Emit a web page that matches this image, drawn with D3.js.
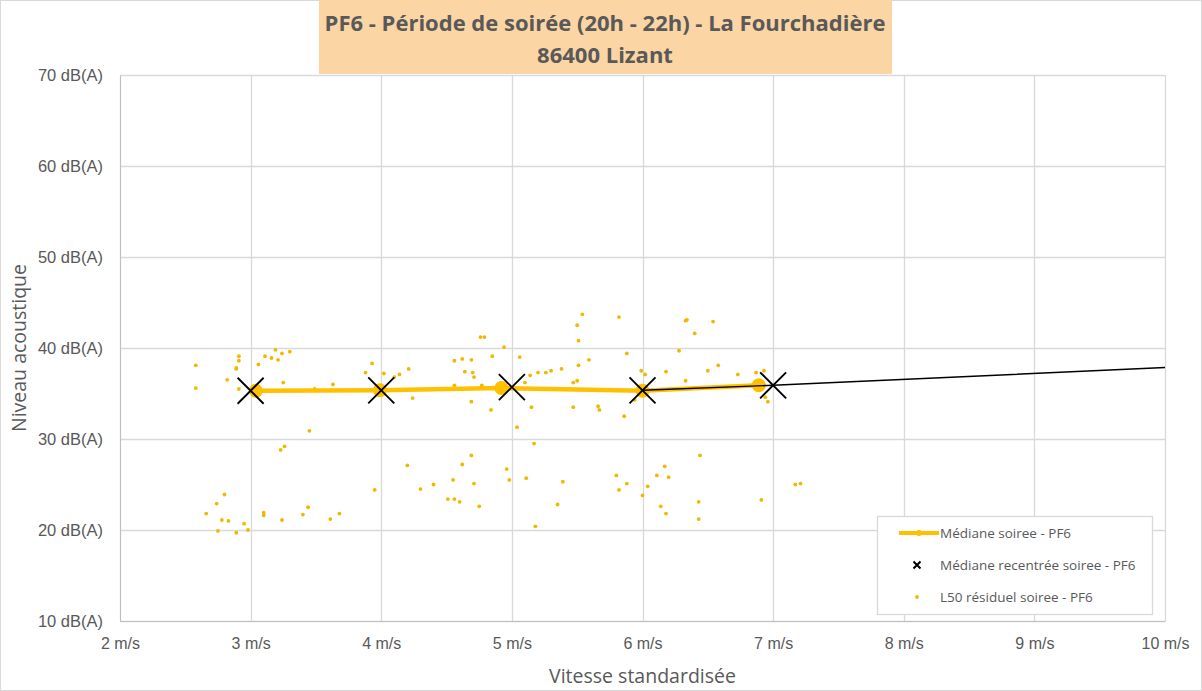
<!DOCTYPE html>
<html>
<head>
<meta charset="utf-8">
<script src="https://cdn.jsdelivr.net/npm/d3@7"></script>
<style>
  html, body { margin: 0; padding: 0; background: #fff; }
  svg { display: block; font-family: "Open Sans", "DejaVu Sans", sans-serif; }
</style>
</head>
<body>
<svg id="chart" width="1202" height="691"></svg>
<script>
// Axis ticks
const xTicks = [2, 3, 4, 5, 6, 7, 8, 9, 10];
const yTicks = [10, 20, 30, 40, 50, 60, 70];

// Median per wind speed class (orange line)
const medianX = [3.04, 3.99, 4.92, 6.0, 6.89];
const medianY = [35.3, 35.35, 35.6, 35.3, 35.9];

// Recentred median at integer speeds (black crosses)
const recentX = [3, 4, 5, 6, 7];
const recentY = [35.3, 35.35, 35.7, 35.35, 35.9];

// Extension of the recentred median (black line)
const extX = [6, 7, 10];
const extY = [35.35, 35.9, 37.85];

// Residual L50 samples (speed, level)
const residX = [
  2.58, 2.58, 2.91, 2.91, 2.89, 2.89, 2.82, 2.91, 3.11, 3.19, 3.16, 3.24, 3.21, 3.30, 3.06, 3.25,
  3.49, 3.63, 3.45, 3.23, 3.26, 2.80, 2.74, 2.66, 2.78, 2.83, 2.75, 2.89, 2.95, 2.98, 3.10, 3.10,
  3.24, 3.40, 3.44, 3.61, 3.68, 3.95, 3.93, 3.88, 4.02, 4.10, 4.14, 4.21, 4.24, 4.20, 4.30, 4.40,
  4.56, 4.62, 4.69, 4.64, 4.70, 4.71, 4.56, 4.69, 4.69, 4.62, 4.55, 4.71, 4.51, 4.56, 4.60, 4.75,
  4.76, 4.79, 4.77, 4.94, 4.85, 5.06, 5.14, 5.20, 5.26, 5.30, 5.38, 5.10, 4.84, 5.15, 5.04, 5.17,
  4.96, 4.98, 5.11, 5.18, 5.39, 5.35, 5.54, 5.50, 5.51, 5.51, 5.59, 5.47, 5.50, 5.47, 5.66, 5.67,
  5.82, 5.88, 5.86, 5.99, 6.02, 5.94, 5.80, 5.82, 5.88, 6.00, 6.04, 6.11, 6.17, 6.20, 6.14, 6.18,
  6.44, 6.43, 6.43, 6.33, 6.34, 6.54, 6.40, 6.28, 6.18, 6.33, 6.50, 6.58, 6.73, 6.87, 6.93, 6.94,
  6.96, 6.91, 7.17, 7.21
];
const residY = [
  38.1, 35.6, 39.1, 38.6, 37.8, 37.7, 36.5, 35.5, 39.1, 39.8, 38.9, 39.4, 38.7, 39.6, 38.2, 36.2,
  35.5, 36.0, 30.9, 28.8, 29.2, 23.9, 22.9, 21.8, 21.1, 21.0, 19.9, 19.7, 20.7, 20.0, 21.9, 21.6,
  21.1, 21.7, 22.5, 21.2, 21.8, 24.4, 38.3, 37.3, 37.2, 36.8, 37.1, 37.7, 34.5, 27.1, 24.5, 25.0,
  38.6, 38.8, 38.7, 37.4, 37.3, 36.8, 35.9, 34.1, 28.2, 27.2, 25.5, 25.1, 23.4, 23.4, 23.1, 22.6,
  41.2, 41.2, 35.9, 40.1, 39.1, 39.0, 37.0, 37.3, 37.3, 37.5, 37.7, 36.2, 33.2, 33.5, 31.3, 29.5,
  26.7, 25.5, 25.7, 20.4, 25.3, 22.8, 43.7, 42.5, 40.8, 38.1, 38.7, 36.2, 36.4, 33.5, 33.6, 33.2,
  43.4, 39.4, 32.5, 37.5, 37.1, 34.3, 26.0, 24.4, 25.1, 23.8, 24.8, 26.0, 27.0, 25.8, 22.6, 21.8,
  28.2, 23.1, 21.2, 43.0, 43.1, 42.9, 41.6, 39.7, 37.4, 36.4, 37.5, 38.1, 37.1, 37.3, 37.5, 34.6,
  34.1, 23.3, 25.0, 25.1
];

const titleLines = ["PF6 - Période de soirée (20h - 22h) - La Fourchadière", "86400 Lizant"];
const legendLabels = ["Médiane soiree - PF6", "Médiane recentrée soiree - PF6", "L50 résiduel soiree - PF6"];
const xTitle = "Vitesse standardisée";
const yTitle = "Niveau acoustique";

const gold = "#FFC000";
const textCol = "#595959";
const gridCol = "#d9d9d9";

const svg = d3.select("#chart");
const W = 1202, H = 691;
const plot = { left: 120, right: 1165, top: 75, bottom: 621 };

const x = d3.scaleLinear().domain([2, 10]).range([plot.left, plot.right]);
const y = d3.scaleLinear().domain([10, 70]).range([plot.bottom, plot.top]);

// chart area frame
svg.append("rect").attr("x", 0.5).attr("y", 0.5).attr("width", W - 1).attr("height", H - 1)
  .attr("fill", "#fff").attr("stroke", gridCol);

// grid
const grid = svg.append("g");
grid.selectAll("line.h").data(yTicks).join("line")
  .attr("x1", plot.left).attr("x2", plot.right)
  .attr("y1", d => Math.round(y(d)) + 0.5).attr("y2", d => Math.round(y(d)) + 0.5)
  .attr("stroke", gridCol).attr("stroke-width", 1.3);
grid.selectAll("line.v").data(xTicks).join("line")
  .attr("y1", plot.top).attr("y2", plot.bottom)
  .attr("x1", d => Math.round(x(d)) + 0.5).attr("x2", d => Math.round(x(d)) + 0.5)
  .attr("stroke", gridCol).attr("stroke-width", 1.3);

// axes (labels only, domain lines drawn with the grid)
const xAxis = svg.append("g").attr("transform", `translate(0,${plot.bottom})`)
  .call(d3.axisBottom(x).tickValues(xTicks).tickSize(0).tickPadding(17).tickFormat(d => `${d} m/s`));
xAxis.select(".domain").attr("stroke", "#bfbfbf");
xAxis.selectAll("text").attr("fill", textCol).attr("font-size", 16).attr("font-family", null);

const yAxis = svg.append("g").attr("transform", `translate(${plot.left},0)`)
  .call(d3.axisLeft(y).tickValues(yTicks).tickSize(0).tickPadding(17).tickFormat(d => `${d} dB(A)`));
yAxis.select(".domain").attr("stroke", "#bfbfbf");
yAxis.selectAll("text").attr("fill", textCol).attr("font-size", 16.5).attr("font-family", null);

// axis titles
svg.append("text").attr("x", (plot.left + plot.right) / 2).attr("y", 683)
  .attr("text-anchor", "middle").attr("fill", textCol).attr("font-size", 19.5).text(xTitle);
svg.append("text").attr("transform", `translate(26,${(plot.top + plot.bottom) / 2}) rotate(-90)`)
  .attr("text-anchor", "middle").attr("fill", textCol).attr("font-size", 19.5).text(yTitle);

// residual L50 points
const residuals = residX.map((v, i) => [v, residY[i]]);
svg.append("g").selectAll("circle").data(residuals).join("circle")
  .attr("cx", d => x(d[0])).attr("cy", d => y(d[1])).attr("r", 1.9)
  .attr("fill", "#F2B800");

// median line with markers
const median = medianX.map((v, i) => [v, medianY[i]]);
const line = d3.line().x(d => x(d[0])).y(d => y(d[1]));
svg.append("path").datum(median).attr("d", line)
  .attr("fill", "none").attr("stroke", gold).attr("stroke-width", 4.5);
svg.append("g").selectAll("circle").data(median).join("circle")
  .attr("cx", d => x(d[0])).attr("cy", d => y(d[1])).attr("r", 7).attr("fill", gold);

// extension of the recentred median
const ext = extX.map((v, i) => [v, extY[i]]);
svg.append("path").datum(ext).attr("d", line)
  .attr("fill", "none").attr("stroke", "#000").attr("stroke-width", 1.4);

// recentred median crosses
const recent = recentX.map((v, i) => [v, recentY[i]]);
const cross = (g, s) => g.append("path")
  .attr("d", `M${-s},${-s}L${s},${s}M${-s},${s}L${s},${-s}`)
  .attr("stroke", "#000").attr("stroke-width", 1.9).attr("fill", "none");
svg.append("g").selectAll("g").data(recent).join("g")
  .attr("transform", d => `translate(${x(d[0])},${y(d[1])})`)
  .each(function () { cross(d3.select(this), 13); });

// title box
const tb = svg.append("g");
tb.append("rect").attr("x", 319).attr("y", 0).attr("width", 573).attr("height", 74).attr("fill", "#FBD5A3");
tb.selectAll("text").data(titleLines).join("text")
  .attr("x", 605).attr("y", (d, i) => 31 + i * 32)
  .attr("text-anchor", "middle").attr("fill", textCol).attr("font-size", 22).attr("font-weight", 700)
  .text(d => d);

// legend
const lg = svg.append("g").attr("transform", "translate(877,516)");
lg.append("rect").attr("x", 0.5).attr("y", 0.5).attr("width", 275).attr("height", 98)
  .attr("fill", "#fff").attr("stroke", gridCol).attr("stroke-width", 1.3);
const rowY = [17, 49, 81];
lg.append("line").attr("x1", 22).attr("x2", 62).attr("y1", rowY[0]).attr("y2", rowY[0])
  .attr("stroke", gold).attr("stroke-width", 4);
lg.append("circle").attr("cx", 42).attr("cy", rowY[0]).attr("r", 3).attr("fill", gold);
cross(lg.append("g").attr("transform", `translate(40,${rowY[1]})`), 3.5).attr("stroke-width", 2);
lg.append("circle").attr("cx", 40).attr("cy", rowY[2]).attr("r", 1.9).attr("fill", "#F2B800");
lg.selectAll("text").data(legendLabels).join("text")
  .attr("x", 63).attr("y", (d, i) => rowY[i] + 5)
  .attr("fill", textCol).attr("font-size", 13.5).text(d => d);
</script>
</body>
</html>
